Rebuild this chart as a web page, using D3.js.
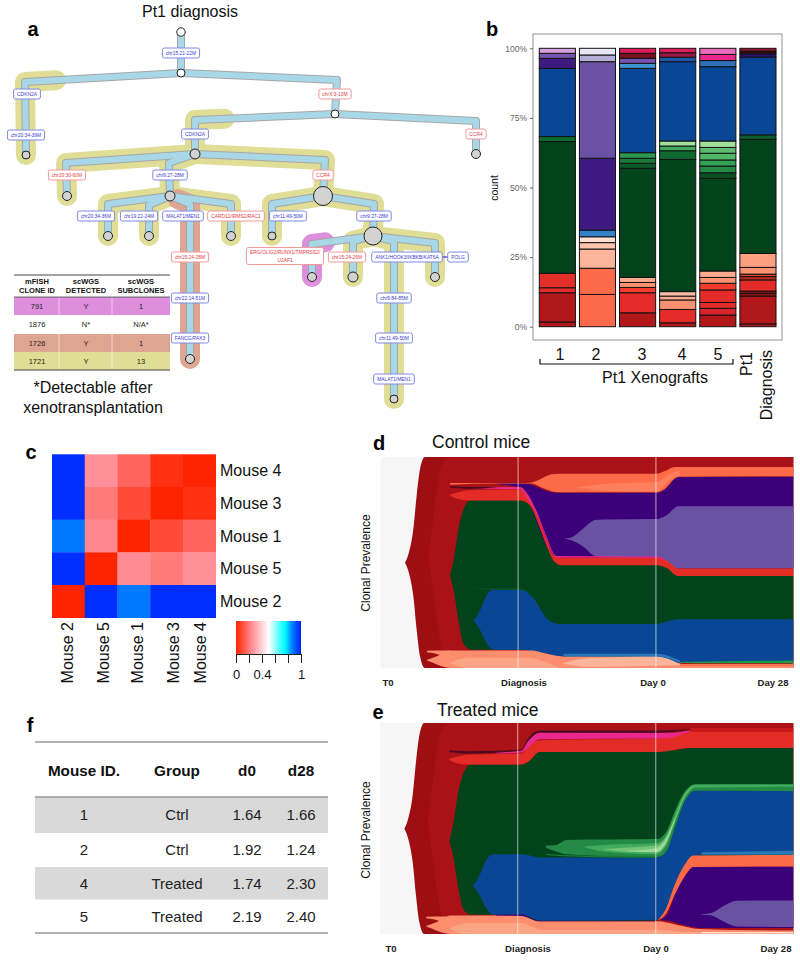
<!DOCTYPE html>
<html><head><meta charset="utf-8">
<script src="https://cdn.jsdelivr.net/npm/d3@7"></script>
<style>html,body{margin:0;background:#fff}svg{display:block}text{font-family:"Liberation Sans",Arial,sans-serif}</style>
</head><body><div id="chart"></div>
<script>
// ---------- panel a : clone tree (layout units 0-100) ----------
const treeNodes = [
 ["n0",null,36.2,8],["n1","n0",36.2,18.25],["n2","n1",5.2,38.75],["n3","n1",67,28.5],["n4","n3",39,38.5],["n5","n3",95.2,38.5],
 ["n6","n4",13.4,49],["n7","n4",34,49],["n8","n4",64.6,49],["n9","n7",21.6,59],["n10","n7",29.8,59],["n11","n7",38,89.75],
 ["n12","n7",46.2,59],["n13","n8",54.4,59],["n14","n8",74.6,59],["n15","n14",62.4,69.25],["n16","n14",70.6,69.25],["n17","n14",78.8,99.75],["n18","n14",87,69.25]];
const treeCorners = {n1:[36.2,13],n2:[5,20.5],n3:[67.4,20],n4:[39,30],n5:[95.2,30.25],n6:[13.2,40.75],n7:[33.8,40.75],n8:[65,40],n9:[21.6,51],n10:[29.8,51.25],n11:[38,51],n12:[46.2,51],n13:[54.4,51],n14:[74.8,51],n15:[62.4,61],n16:[70.6,60.25],n17:[78.8,60.25],n18:[87,60.75]};
const nodeSizes = {n0:4.2,n1:4,n2:4,n3:4,n4:5,n5:4.5,n6:4.5,n7:5,n8:9.5,n9:4.5,n10:4.5,n11:4.5,n12:4.5,n13:4,n14:9,n15:4.5,n16:5,n17:4,n18:4.5};
const whiteNodes = ["n0","n1","n3"];
const cloneYellow = [["n2",.8],["n4",.79],["n6",0],["n7",0],["n8",0],["n9",0],["n10",0],["n12",0],["n13",0],["n14",0],["n16",0],["n17",0],["n18",0]];
const cloneSalmon = [["n11",.4]];
const cloneMagenta = [["n15",.79]];
const treeLabels = [
 ["chr15:21-22M",36.2,13.25,0],["CDKN2A",5.4,23.5,0],["chr20:34-39M",5.2,33.75,0],["chrX:3-10M",67,23.5,1],["CDKN2A",39,33.5,0],["CCR4",95.2,33.5,1],
 ["chr20:30-60M",13.4,43.75,1],["chr9:27-28M",34,43.75,0],["CCR4",64.6,43.75,1],["chr20:34-36M",19.2,54,0],["chr19:22-24M",27.8,54,0],["MALAT1/MEN1",36.6,54,0],
 ["CARD11/IRMS2/RAC1",47.2,54,1],["chr11:49-50M",57.6,54,0],["chr9:27-28M",74.8,54,0],["ERG/OLIG2/RUNX1/TMPRSS2/|U2AF1",57,64,1],["chr15:24-26M",69.4,64.25,1],
 ["ANK1/HOOK3/IKBKB/KAT6A",81.4,64.25,0],["POLG",91.6,64.25,0],["chr9:84-85M",78.8,74.5,0],["chr11:49-50M",78.8,84.5,0],["MALAT1/MEN1",78.8,94.75,0],
 ["chr15:24-28M",38,64.25,1],["chr22:14-51M",38,74.5,0],["FANCG/PAX3",38,84.5,0]];
const miniHeader = [["mFISH","CLONE ID"],["scWGS","DETECTED"],["scWGS","SUBCLONES"]];
const miniRows = [["791","Y","1"],["1876","N*","N/A*"],["1726","Y","1"],["1721","Y","13"]];
// ---------- panel b : stacked bars ----------
const barNames = ["1","2","3","4","5","6"];
const bar1 = [[1.7,"#b2171a"],[10.5,"#b2171a"],[1.8,"#e32c2a"],[5.2,"#e32f2a"],[47.3,"#03431c"],[1.8,"#0d6b2f"],[24.5,"#0a4696"],[3.6,"#3f1a80"],[1.8,"#7554b0"],[1.8,"#d4a2dc"]];
const bar2 = [[11.6,"#fd6a49"],[9.4,"#fd6a49"],[6.9,"#fcb59a"],[2.3,"#fcc4ab"],[2.1,"#fee0d2"],[2.4,"#3182c8"],[25.8,"#3f1a80"],[34.7,"#6a51a3"],[2.4,"#b4aed6"],[2.4,"#e8e6f4"]];
const bar3 = [[5,"#b2171a"],[7.2,"#e32c2a"],[1.9,"#f43b2e"],[1.8,"#fc9272"],[1.8,"#fcab8e"],[39.2,"#03431c"],[1.8,"#0a5c2a"],[1.8,"#1a7a3a"],[2,"#2d9a4f"],[30.3,"#0a4696"],[1.8,"#3f95d0"],[1.8,"#7554b0"],[1.8,"#7a1020"],[1.8,"#dc1f5b"]];
const bar4 = [[1.4,"#b2171a"],[4.8,"#e32c2a"],[3.4,"#fc9272"],[1.4,"#fcab8e"],[1.6,"#fcbfa5"],[47.5,"#03431c"],[3.1,"#0d6b2f"],[1.7,"#41ab5d"],[1.8,"#a1e09a"],[28.5,"#0a4696"],[1.6,"#1c5aa8"],[1.6,"#a01848"],[1.6,"#dc1f5b"]];
const bar5 = [[4.2,"#b2171a"],[2.4,"#d8242a"],[2.1,"#e32c2a"],[4.5,"#e32c2a"],[2.4,"#f03a2e"],[2.1,"#fc9272"],[2.3,"#fcab8e"],[33.3,"#03431c"],[2,"#0a4f24"],[2.4,"#238b45"],[2.2,"#31a354"],[2.4,"#52b868"],[2.1,"#5dbb6f"],[2.3,"#a1e09a"],[26.7,"#0a4696"],[2.2,"#2f70b8"],[2.2,"#e8288c"],[2.2,"#e86bbb"]];
const bar6 = [[1,"#b2171a"],[10,"#b2171a"],[1,"#8f1212"],[.8,"#9a1515"],[4,"#e32c2a"],[1.2,"#c0281f"],[.9,"#d8402f"],[2.4,"#fc9272"],[5,"#fca082"],[41,"#03431c"],[1.6,"#0d5c2a"],[27.9,"#0a4696"],[1.2,"#2a1070"],[1,"#300a10"],[1,"#a01030"]];
const barTicks = [0,25,50,75,100];
const barGroupLabels = ["1","2","3","4","5"];
// ---------- panel c : heat map ----------
const heatRows = ["Mouse 4","Mouse 3","Mouse 1","Mouse 5","Mouse 2"];
const heatCols = ["Mouse 2","Mouse 5","Mouse 1","Mouse 3","Mouse 4"];
const heatValues = [[.98,.25,.15,.03,0],[.98,.2,.09,0,.03],[.87,.23,0,.09,.15],[.98,0,.24,.2,.25],[0,.98,.87,.98,.98]];
const legendTicks = [0,.2,.4,.6,.8,1];
const legendLabels = ["0","","0.4","","","1"];
// ---------- panels d,e : fish plots  [time %, upper %, lower %] ----------
const fishTimeNames = ["T0","Diagnosis","Day 0","Day 28"];
const fishGuideTimes = [33.3,66.7];
const baseA = [[5.9,6.7,7.9,8.7,9.5,10.7,100],[49.9,53.8,65.7,81.4,94,100,100],[49.9,46,34.2,18.4,5.8,0,0]];
const baseB = [[11.6,12.4,13.6,14.8,16,16.8,100],[53.1,65.4,84.3,95.3,99.2,100,100],[53.1,40.9,22.8,10.2,2.4,0,0]];
const prong = [[11.2,15.2,16.8],[8.2,8.3,8.3],[7.5,5.5,2.4]];
const dSalmon = [[11.2,12.8,14.4,16,16.8,36.6,39,44.3,66.9,72.1,73.3,100],[3.9,5,6.3,8,8.3,8.3,7.4,5.5,5.5,2.4,1.9,1.9],[3.6,2.4,1.1,.2,0,0,0,0,0,0,0,0]];
const dLight1 = [[16.8,21.2,36.2,39.4,43.1],[2.5,4.9,4.9,3.1,.5],[2.2,0,0,0,0]];
const dLight2 = [[44.3,50.7,66.9,72.5],[2.4,4.7,5.5,1.9],[2.05,.5,1.1,1.25]];
const dGreen = [[16.8,17.8,18.8,20,21,21.8,34.2,36.2,38.2,40.2,42.2,43.9,66.9,69.3,72.1,100],[43.8,52.8,65.4,74.8,78.7,79.5,79.5,77.2,68.5,58.3,50.4,48.8,48.8,47.7,43.6,43.6],[43.8,35.4,22.8,11.8,9.4,8.7,8.7,8.3,7.7,6.8,5.8,5.5,5.5,3.9,2.4,2.4]];
const dGreenThin = [[22.5,27,33.8,37],[37.6,37.9,37.8,33.6],[37.4,37,37,33.1]];
const dBlue = [[22.5,23.3,24.5,25.7,26.9,27.7,34.2,37,40.2,43.1,66.9,69.3,72.1,100],[22.5,24.4,29.1,34.6,37,37,37,33.1,23.6,20.9,20.9,22,23.1,23.1],[22.5,20.5,16.5,11.8,9,8.7,8.7,7.9,6.8,5.5,5.5,3.9,2.4,2.4]];
const dBlueThin = [[44.3,66.9,72.5],[6.8,6.8,3.6],[5.5,5.5,2.5]];
const dOrange = [[16.8,28.1,35.3,36.6,39,41.4,43,66.9,68.9,71.3,72.5,100],[87.7,87.7,87.7,87.9,89.8,91.8,92.1,92.1,93.4,95.3,95.3,95.3],[86.9,87.4,87.4,87.4,85.5,83.8,83.3,83.3,85,89.8,90.6,90.9]];
const dOrangeIn = [[47.5,55.6,66.9,70.1,72.5],[85.5,87.4,88.2,92.1,93.7],[85.2,83.9,83.5,89,91.3]];
const dPurple = [[28.1,33.8,35.5,37.9,41,43,66.9,68.9,72.1,100],[87.4,87.7,87.4,85.8,83.5,83.1,83.1,84.6,90.6,90.6],[87.1,85.5,81.1,68.5,55.1,52.4,52.4,50.4,47.2,47.2]];
const dLilac = [[44.3,46.2,49.1,51.9,54,66.9,69.3,72.1,100],[61.4,61.9,66.1,70.1,70.4,70.6,72.4,76.7,76.7],[61.4,60.6,57.5,53.1,52.4,52.4,50.4,47.2,47.2]];
const dRed = [[16.8,18.4,21.2,33.8,36.2,38.2,40.2,42.2,43.9,66.9,69.3,72.1,100],[82.2,83,84.3,84.6,80,71.3,60.9,52.8,52.4,52.4,50.9,47.2,47.2],[81.6,80.3,79.4,79.4,77,68.3,58.1,50.2,48.7,48.7,47.4,43.6,43.6]];
const dPink = [[22.5,33.8,35.5,38.2,40.2,42.6,66.9,69.3],[85.5,85.8,82.7,72.4,62.2,53.1,52.8,50.9],[84.9,84.7,80.3,71.3,60.9,52.4,52.3,50.7]];
const dMaroon = [[16.8,21.6,28.1],[86.3,85.8,85.8],[85.5,84.9,85.7]];
const dStripeG = [[72.5,80,100],[2.8,3.1,3.6],[2.5,2.2,2.2]];
const dStripeO = [[72.5,100],[1.6,1.6],[.9,.9]];
const eSalmon = [[11.2,12.8,14.4,16,16.8,34.2,38.6,66.9,71.7,77.3,100],[3.9,5,6.3,8,8.8,8.8,6,6,4.4,2.4,1.6],[3.6,2.4,1.1,.2,0,0,0,0,0,0,0]];
const eLight = [[16.8,21.2,34.2,36.8,38.6,66.9,74,100],[2.5,5.2,5.2,3.5,2,2,1,.8],[2.2,0,0,0,0,0,0,0]];
const eStrip = [[77.8,100],[.9,.9],[.3,.3]];
const eGreen = [[16.8,17.8,18.8,20,21,21.8,34.2,35.8,38.6,66.9,70.1,75,100],[44.3,53.2,65.8,75.3,79.2,80.3,80.3,81.6,86.3,86.3,87.1,88.2,88.2],[44.3,35.9,23.3,12.3,9.9,9.1,9.1,8,6,6.3,18.6,34.3,37.5]];
const eBlue = [[22.5,23.3,24.5,25.7,26.9,27.7,34.2,36.2,38.6,66.9,69.3,71.3,73.7,76.6,100],[23,24.9,29.6,35.1,37.5,37.8,37.8,37.2,36.2,36.2,39.1,50.1,62.7,68,68],[23,20.9,17,12.3,9.4,9.1,9.1,8,6.3,6.8,12.3,23.3,32.8,37.2,38.7]];
const eBlueThin = [[77.8,100],[38.7,39.4],[37.6,37.6]];
const eOrange = [[67.3,69.3,71.3,73.7,75.8,100],[6.8,12.3,23.3,32.8,37.2,37.5],[6.5,9.9,18.6,27.2,31.7,32]];
const ePurple = [[67.7,69.7,71.3,73.7,75.8,77.5,100],[6.6,9.9,18.6,27.2,31.8,32,32],[6.5,6.3,5.5,4.1,3.3,2.8,2.8]];
const eLilac = [[77.8,80.2,83,86.3,100],[9.4,9.9,13.1,15.7,15.9],[9.1,8.8,6,3.6,3.3]];
const ePurpleThin = [[28.1,34.2,38.6,66.9],[9.1,9.3,6.3,6.3],[8.8,8.5,6,6]];
const eGreen1 = [[40.2,42.6,45.1,66.9,69.3,71.3,73.7,76.2,100],[41.9,42.2,44.6,45,48.5,58,67.4,70.9,71],[40.9,39.1,37.8,36.4,39.1,50.1,62.7,67.9,67.7]];
const eGreen1b = [[40.2,44.3,66.9],[38,37.5,36.9],[37.5,36.9,36.1]];
const eGreen2 = [[49.1,54,66.9,69.3,71.3,73.7,76.2,100],[41.4,42.2,43,46.9,56.4,66.6,70.9,70.9],[41.3,39.1,37.8,42.2,52.4,64.3,69.3,69.8]];
const eGreen3 = [[54,58.8,66.9,69.3,71.3,73.7,75.8],[40.3,40.9,41.9,46.1,54.8,65.8,69.8],[40.2,39.1,38.7,43,53.2,64.9,69.6]];
const eGreen4 = [[60,66.9,69.3,71.3],[39.4,40.6,45.4,54.5],[39.2,38.7,43.8,53.5]];
const eRed = [[16.8,18.4,21.2,34.2,35.8,38.6,66.9,70.1,75,100],[83.1,83.9,85,85.5,88.7,91.8,92.6,94.5,96.1,95.7],[82.4,81.1,80.3,80.3,81.6,86.3,86.3,86.9,88.2,88.2]];
const ePink = [[28.1,34.2,35.8,38.6,66.9,71,75],[86.6,87.1,91.8,95.7,95.4,95.4,96.7],[85.5,86,88.2,92.3,92.6,93.4,96.1]];
const eMaroon = [[16.8,21.6,34.2,35.8,38.6,66.9,75],[87.1,86.6,87.4,92.6,96.4,96.5,97],[86.3,85.5,86.9,91.3,95.4,95.4,96.7]];
const eTopRed = [[75,100],[97.6,97.6],[95.7,95.7]];
// ---------- panel f : table ----------
const mouseHeader = ["Mouse ID.","Group","d0","d28"];
const mouseRows = [["1","Ctrl","1.64","1.66"],["2","Ctrl","1.92","1.24"],["4","Treated","1.74","2.30"],["5","Treated","2.19","2.40"]];

// ---------- drawing ----------
const FONT = '"Liberation Sans",Arial,sans-serif';
const svg = d3.select("#chart").append("svg").attr("width",800).attr("height",961);
function txt(g,s,x,y,size,opts={}){
  const t=g.append("text").attr("x",x).attr("y",y).attr("font-size",size).attr("text-anchor",opts.anchor||"middle")
    .attr("fill",opts.fill||"#111").attr("font-weight",opts.weight||"normal").text(s);
  if(opts.rot) t.attr("transform",`rotate(${opts.rot} ${x} ${y})`);
  return t;
}
[["a",33,36],["b",492,36],["c",31,459],["d",379,450],["e",378,719],["f",30,732]].forEach(d=>txt(svg,d[0],d[1],d[2],20,{weight:"bold",fill:"#000"}));

// panel a
(function(){
  const x=d3.scaleLinear().domain([0,100]).range([0,500]), y=d3.scaleLinear().domain([0,100]).range([0,400]);
  const g=svg.append("g");
  const byId=new Map(treeNodes.map(n=>[n[0],n]));
  const line=d3.line().x(d=>x(d[0])).y(d=>y(d[1]));
  const route=(id,f=0)=>{
    const n=byId.get(id),p=byId.get(n[1]),c=treeCorners[id];
    return [[p[2]+(c[0]-p[2])*f,p[3]+(c[1]-p[3])*f],c,[n[2],n[3]]];
  };
  [[cloneYellow,"#e0dd96"],[cloneSalmon,"#dfa593"],[cloneMagenta,"#dd8fdc"]].forEach(([set,col])=>{
    g.selectAll(null).data(set).enter().append("path").attr("d",d=>line(route(d[0],d[1])))
      .attr("fill","none").attr("stroke",col).attr("stroke-width",20).attr("stroke-linecap","round").attr("stroke-linejoin","round");
  });
  const edges=treeNodes.filter(n=>n[1]);
  [["#a6a6a6",8],["#a8d8e8",6]].forEach(([col,w],i)=>{
    g.selectAll(null).data(edges).enter().append("path").attr("d",d=>line(route(d[0])))
      .attr("fill","none").attr("stroke",col).attr("stroke-width",w).attr("stroke-linejoin","round");
  });
  g.selectAll(null).data(treeNodes).enter().append("circle").attr("cx",d=>x(d[2])).attr("cy",d=>y(d[3]))
    .attr("r",d=>nodeSizes[d[0]]).attr("fill",d=>whiteNodes.includes(d[0])?"#fff":"#d3d3d3").attr("stroke","#222").attr("stroke-width",1);
  g.append("path").attr("d",line([[88,64.25],[91.6,64.25]])).attr("stroke","#3a3ad0").attr("stroke-width",1.2);
  treeLabels.forEach(l=>{
    const parts=l[0].split("|"),col=l[3]?"#e23c3c":"#3a3ad0",bd=l[3]?"#f29a9a":"#7f8ae6";
    const lg=g.append("g").attr("transform",`translate(${x(l[1])},${y(l[2])})`);
    const r=lg.append("rect").attr("fill","#fff").attr("stroke",bd).attr("stroke-width",1).attr("rx",2);
    let w=0;
    parts.forEach((p,i)=>{
      const t=txt(lg,p,0,1.8+(i-(parts.length-1)/2)*8,4.9,{fill:col});
      w=Math.max(w,t.node().getComputedTextLength());
    });
    const h=parts.length>1?17:10;
    r.attr("x",-w/2-3.5).attr("y",-h/2).attr("width",w+7).attr("height",h);
  });
  txt(svg,"Pt1 diagnosis",190,17,16);
  // mini table
  const t=svg.append("g");
  const colX=[37,86,141], rowY=[297,315,334,352], rowH=[18,19,18,18], rowCol=["#dd8fdc","#fff","#dfa593","#e0dd96"];
  t.selectAll(null).data(rowY).enter().append("rect").attr("x",14).attr("y",d=>d).attr("width",156).attr("height",(d,i)=>rowH[i]).attr("fill",(d,i)=>rowCol[i]);
  [59,112].forEach(v=>t.append("path").attr("d",d3.line()([[v,297],[v,370]])).attr("stroke","#fff").attr("stroke-width",.8).attr("opacity",.7));
  [[275,1],[297,.8],[370,1]].forEach(([v,w])=>t.append("path").attr("d",d3.line()([[14,v],[170,v]])).attr("stroke","#444").attr("stroke-width",w));
  miniHeader.forEach((h,i)=>{txt(t,h[0],colX[i],284,7.5,{weight:"bold"});txt(t,h[1],colX[i],293,7.5,{weight:"bold"});});
  miniRows.forEach((r,j)=>r.forEach((c,i)=>txt(t,c,colX[i],rowY[j]+rowH[j]/2+2.5,7.5,{fill:"#222"})));
  txt(svg,"*Detectable after",93,393,16);
  txt(svg,"xenotransplantation",93,413,16);
})();

// panel b
(function(){
  const g=svg.append("g");
  g.append("rect").attr("x",533).attr("y",34).attr("width",249).attr("height",306).attr("fill","#fff").attr("stroke","#a3a3a3").attr("stroke-width",1.2);
  const x=d3.scaleBand().domain(barNames).range([539.3,776]).paddingInner(.1).paddingOuter(0);
  const y=d3.scaleLinear().domain([0,100]).range([326.7,48.3]);
  [bar1,bar2,bar3,bar4,bar5,bar6].forEach((bar,i)=>{
    let cum=0;
    const total=d3.sum(bar,d=>d[0]);
    const stack=bar.map(d=>{const s={y0:cum/total*100,y1:(cum+d[0])/total*100,c:d[1]};cum+=d[0];return s;});
    g.selectAll(null).data(stack).enter().append("rect").attr("x",x(barNames[i])).attr("width",x.bandwidth())
      .attr("y",d=>y(d.y1)).attr("height",d=>y(d.y0)-y(d.y1)).attr("fill",d=>d.c).attr("stroke","#111").attr("stroke-width",1);
  });
  const ax=g.append("g").attr("transform","translate(533,0)").call(d3.axisLeft(y).tickValues(barTicks).tickFormat(d=>d+"%").tickSize(3).tickPadding(3));
  ax.select(".domain").remove();
  ax.selectAll("line").attr("stroke","#666");
  ax.selectAll("text").attr("font-size",8.5).attr("fill","#666").attr("font-family",FONT);
  txt(g,"count",498,188,10.5,{rot:-90});
  const lx=[560,596,642,682,718];
  barGroupLabels.forEach((s,i)=>txt(g,s,lx[i],360,16));
  g.append("path").attr("d",d3.line()([[540,359],[540,364],[733,364],[733,359]])).attr("fill","none").attr("stroke","#111").attr("stroke-width",1.2);
  txt(g,"Pt1 Xenografts",655,383,16);
  txt(g,"Pt1",752,352,16,{rot:-90,anchor:"end"});
  txt(g,"Diagnosis",772,350,16,{rot:-90,anchor:"end"});
})();

// panel c
(function(){
  const g=svg.append("g");
  const x=d3.scaleBand().domain(heatCols).range([52,215.7]), y=d3.scaleBand().domain(heatRows).range([454.3,617.7]);
  const col=d3.scaleLinear().domain([0,.25,.5,.75,.87,1]).range(["#ff2400","#ff9099","#ffffff","#00ffff","#0078ff","#0020ff"]);
  heatRows.forEach((r,j)=>{
    g.selectAll(null).data(heatValues[j]).enter().append("rect").attr("x",(d,i)=>x(heatCols[i])).attr("y",y(r))
      .attr("width",x.bandwidth()+.3).attr("height",y.bandwidth()+.3).attr("fill",d=>col(d));
    txt(g,r,220,y(r)+y.bandwidth()/2+5.5,16,{anchor:"start"});
  });
  const off=[-1,2,4,7,1];
  heatCols.forEach((c,i)=>{const px=x(c)+x.bandwidth()/2+off[i]+5.5;txt(g,c,px,622,16,{rot:-90,anchor:"end"});});
  const grad=svg.append("defs").append("linearGradient").attr("id","lg");
  d3.range(0,1.001,.05).forEach(v=>grad.append("stop").attr("offset",v).attr("stop-color",col(v)));
  g.append("rect").attr("x",236).attr("y",621).attr("width",65).attr("height",33).attr("fill","url(#lg)");
  const lx=d3.scaleLinear().domain([0,1]).range([236,301]);
  const ax=g.append("g").attr("transform","translate(0,654)").call(d3.axisBottom(lx).tickValues(legendTicks).tickFormat((d,i)=>legendLabels[i]).tickSize(9).tickPadding(7).tickSizeOuter(0));
  ax.selectAll("line,path").attr("stroke","#222");
  ax.selectAll("text").attr("font-size",13).attr("font-family",FONT).attr("fill","#111");
})();

// panels d,e
function fish(top,bottom,left,layers,title,titleX,titleY,labY,labX,axisY){
  const g=svg.append("g");
  const x=d3.scaleLinear().domain([0,100]).range([left,793.3]);
  const y=d3.scaleLinear().domain([0,100]).range([bottom,top]);
  g.append("rect").attr("x",left).attr("y",top).attr("width",793.3-left).attr("height",bottom-top).attr("fill","#f6f6f6");
  const area=d3.area().x(d=>x(d[0])).y0(d=>y(d[2])).y1(d=>y(d[1])).curve(d3.curveMonotoneX);
  layers.forEach(([a,c])=>{
    g.append("path").attr("d",area(d3.zip(a[0],a[1],a[2]))).attr("fill",c);
  });
  fishGuideTimes.forEach(t=>g.append("path").attr("d",d3.line()([[x(t),top],[x(t),bottom]])).attr("stroke","#fff").attr("stroke-opacity",.45).attr("stroke-width",1.4));
  txt(g,title,titleX,titleY,17.5,{anchor:"start"});
  txt(g,"Clonal Prevalence",370,axisY,12,{rot:-90});
  fishTimeNames.forEach((s,i)=>txt(g,s,labX[i],labY,9.6,{weight:"bold",fill:"#222"}));
}
fish(457,668,380.7,[[baseA,"#9e0f14"],[baseB,"#ab1218"],[dGreen,"#03431c"],[dGreenThin,"#0a5026"],[dBlue,"#0a4696"],[dPurple,"#3c0078"],[dLilac,"#6a52a3"],
  [prong,"#fc8d6d"],[dSalmon,"#fc8d6d"],[dLight1,"#fca486"],[dLight2,"#fdb498"],[dBlueThin,"#2a78b8"],[dStripeG,"#1f9a48"],[dStripeO,"#fc6a48"],
  [dRed,"#e32c26"],[dPink,"#e8288c"],[dMaroon,"#4a0a20"],[dOrange,"#fc6a48"],[dOrangeIn,"#fd7f5c"]],
  "Control mice",432,448,686,[388,524,653,773],563);
fish(723,934,380,[[baseA,"#9e0f14"],[baseB,"#ab1218"],[eGreen,"#03431c"],[eBlue,"#0a4696"],[eBlueThin,"#2a78b8"],[ePurple,"#3c0078"],[eLilac,"#6a52a3"],[eOrange,"#fc6a48"],
  [prong,"#fc8d6d"],[eSalmon,"#fc8d6d"],[eLight,"#fca486"],[eStrip,"#fee0d2"],[ePurpleThin,"#3c0078"],
  [eGreen1,"#238b45"],[eGreen1b,"#1a7a3a"],[eGreen2,"#41ab5d"],[eGreen3,"#74c476"],[eGreen4,"#a1d99b"],
  [eRed,"#e32c26"],[ePink,"#e8288c"],[eMaroon,"#4a0a20"],[eTopRed,"#c9181c"]],
  "Treated mice",437,716,952,[391,528,656,776],830);

// panel f
(function(){
  const g=svg.append("g");
  const colX=[84,177,247,301], rowTop=[797,833,867,899.5], rowBot=[833,867,899.5,933];
  rowTop.forEach((t,i)=>{if(i%2==0) g.append("rect").attr("x",35).attr("y",t).attr("width",293).attr("height",rowBot[i]-t).attr("fill","#d9d9d9");});
  [[742,1.3],[797,1.6],[933,1.3]].forEach(([v,w])=>g.append("path").attr("d",d3.line()([[35,v],[328,v]])).attr("stroke","#999").attr("stroke-width",w));
  mouseHeader.forEach((h,i)=>txt(g,h,colX[i],776,15.3,{weight:"bold"}));
  mouseRows.forEach((r,j)=>r.forEach((c,i)=>txt(g,c,colX[i],(rowTop[j]+rowBot[j])/2+5.3,15,{fill:"#222"})));
})();
</script></body></html>
